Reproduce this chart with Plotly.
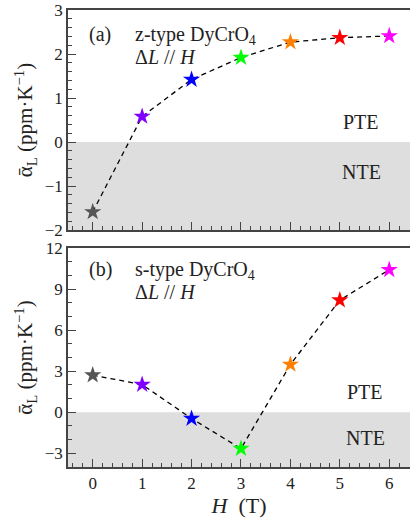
import plotly.graph_objects as go

H = [0, 1, 2, 3, 4, 5, 6]
alpha_z = [-1.59, 0.58, 1.42, 1.92, 2.27, 2.37, 2.41]
alpha_s = [2.71, 2.02, -0.46, -2.66, 3.49, 8.19, 10.41]
colors = ["#555555", "#8000ff", "#0000ff", "#00ff00", "#ff8000", "#ff0000", "#ff00ff"]

FONT = "Liberation Serif, DejaVu Serif, Times New Roman, serif"
FRAME = "#444444"

fig = go.Figure()
for yv, ax in [(alpha_z, ("x", "y")), (alpha_s, ("x2", "y2"))]:
    fig.add_trace(go.Scatter(
        x=H, y=yv, xaxis=ax[0], yaxis=ax[1], mode="lines+markers",
        line=dict(color="black", width=1.3, dash="5px,4px"),
        marker=dict(symbol="star", size=13, color=colors, line=dict(width=0)),
        showlegend=False, cliponaxis=False))

# shaded NTE regions
fig.add_shape(type="rect", xref="x domain", yref="y", x0=0, x1=1, y0=-2, y1=0,
              fillcolor="#dedede", line=dict(width=0), layer="below")
fig.add_shape(type="rect", xref="x2 domain", yref="y2", x0=0, x1=1, y0=-4, y1=0,
              fillcolor="#dedede", line=dict(width=0), layer="below")

xcommon = dict(range=[-0.5, 6.42], showline=True, linecolor=FRAME, linewidth=1.5,
               mirror=True, ticks="inside", ticklen=8, tickwidth=1.2, tickcolor=FRAME,
               dtick=1, tick0=0, showgrid=False, zeroline=False, automargin=False,
               minor=dict(dtick=0.2, ticks="inside", ticklen=4, tickwidth=1, tickcolor=FRAME),
               tickfont=dict(family=FONT, size=17, color="#222"))
ycommon = dict(showline=True, linecolor=FRAME, linewidth=1.5, mirror=False,
               ticks="inside", ticklen=8, tickwidth=1.2, tickcolor=FRAME,
               showgrid=False, zeroline=False, automargin=False,
               tickfont=dict(family=FONT, size=17, color="#222"),
               title=dict(text="ᾱ<sub>L</sub> (ppm·K<sup>−1</sup>)",
                          font=dict(family=FONT, size=21, color="#222"), standoff=6))

fig.update_layout(
    width=410, height=520,
    margin=dict(l=68, r=0, t=10, b=53),
    plot_bgcolor="white", paper_bgcolor="white",
    font=dict(family=FONT),
    xaxis=dict(**xcommon, domain=[0, 1], anchor="y", showticklabels=False, matches="x2"),
    yaxis=dict(**ycommon, domain=[0.5186, 1], range=[-2, 3], dtick=1, tick0=0,
               minor=dict(dtick=0.2, ticks="inside", ticklen=4, tickwidth=1, tickcolor=FRAME)),
    xaxis2=dict(**xcommon, domain=[0, 1], anchor="y2",
                title=dict(text="<i>H</i>  (T)", font=dict(family=FONT, size=22, color="#222"), standoff=4)),
    yaxis2=dict(**ycommon, domain=[0, 0.4792], range=[-4, 12], dtick=3, tick0=0,
                minor=dict(dtick=1, ticks="inside", ticklen=4, tickwidth=1, tickcolor=FRAME)),
)

anno_font = dict(family=FONT, size=20, color="#222")
annos = [
    ("x", "y", 0.15, 2.45, "(a)", "center"),
    ("x", "y", 0.82, 2.43, "z-type DyCrO<sub>4</sub>", "left"),
    ("x", "y", 0.82, 1.93, "Δ<i>L</i> // <i>H</i>", "left"),
    ("x", "y", 5.43, 0.45, "PTE", "center"),
    ("x", "y", 5.43, -0.68, "NTE", "center"),
    ("x2", "y2", 0.15, 10.4, "(b)", "center"),
    ("x2", "y2", 0.82, 10.35, "s-type DyCrO<sub>4</sub>", "left"),
    ("x2", "y2", 0.82, 8.8, "Δ<i>L</i> // <i>H</i>", "left"),
    ("x2", "y2", 5.51, 1.46, "PTE", "center"),
    ("x2", "y2", 5.51, -1.9, "NTE", "center"),
]
for xr, yr, xv, yv, txt, xa in annos:
    fig.add_annotation(xref=xr, yref=yr, x=xv, y=yv, text=txt, showarrow=False,
                       xanchor=xa, yanchor="middle", font=anno_font)

fig.write_html("out.html", config={"displayModeBar": False},
               post_script="document.body.style.margin='0';document.body.style.padding='0';")
